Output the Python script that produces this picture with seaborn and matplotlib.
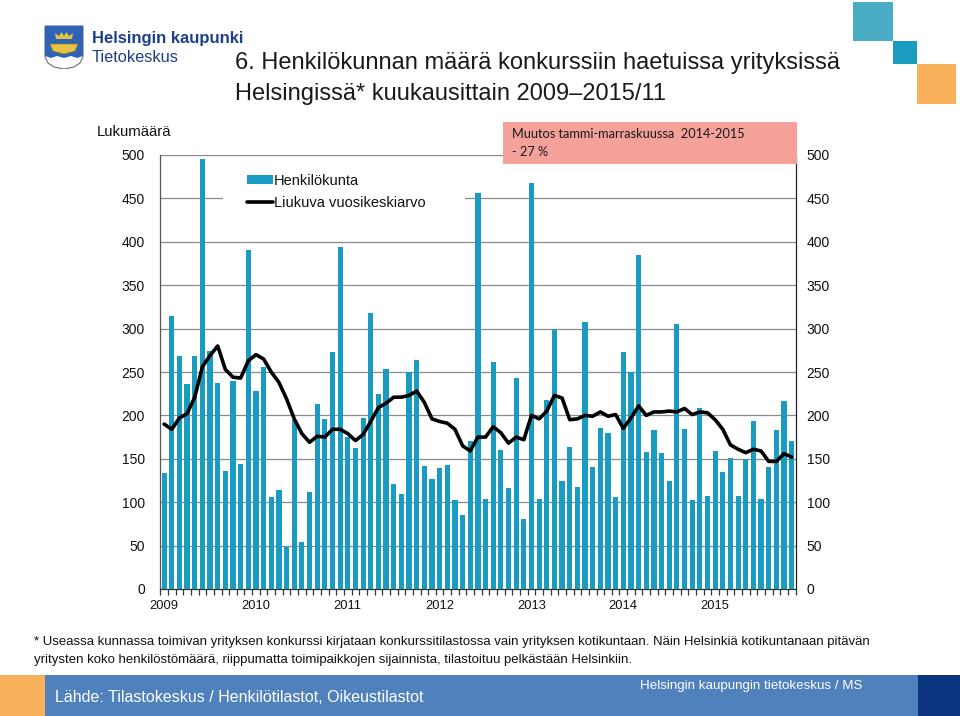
import matplotlib
matplotlib.use("Agg")
import matplotlib.pyplot as plt
import seaborn as sns
import numpy as np
import pandas as pd
from matplotlib.patches import Rectangle, Patch, Polygon
from matplotlib.lines import Line2D
from matplotlib import font_manager

# ---------------- data ----------------
years = ["2009", "2010", "2011", "2012", "2013", "2014", "2015"]
henkilokunta = [
    134, 315, 268, 236, 269, 495, 274, 237, 136, 240, 144, 391,   # 2009
    228, 256, 106, 114, 48, 195, 54, 112, 213, 196, 273, 394,     # 2010
    175, 163, 197, 318, 225, 253, 121, 109, 250, 264, 142, 127,   # 2011
    139, 143, 103, 85, 170, 456, 104, 262, 160, 116, 243, 81,     # 2012
    468, 104, 218, 299, 124, 164, 118, 308, 141, 185, 180, 106,   # 2013
    273, 250, 385, 158, 183, 157, 124, 305, 184, 103, 208, 107,   # 2014
    159, 135, 151, 107, 150, 194, 104, 140, 183, 217, 170,        # 2015 (1-11)
]
liukuva = [
    190, 184, 197, 202, 221, 256, 269, 280, 253, 244, 243, 263,
    270, 265, 250, 238, 219, 196, 179, 169, 176, 175, 184, 184,
    179, 171, 178, 193, 209, 214, 221, 221, 223, 228, 215, 196,
    193, 191, 184, 165, 159, 175, 175, 187, 180, 168, 175, 172,
    200, 196, 205, 223, 220, 195, 196, 200, 199, 204, 199, 201,
    185, 197, 211, 200, 204, 204, 205, 204, 208, 201, 204, 203,
    195, 184, 166, 161, 157, 161, 159, 147, 147, 156, 152,
]
y_ticks = [0, 50, 100, 150, 200, 250, 300, 350, 400, 450, 500]

n = len(henkilokunta)
df = pd.DataFrame({"i": np.arange(n), "Henkilökunta": henkilokunta,
                   "Liukuva": liukuva})

# ---------------- fonts ----------------
avail = {f.name for f in font_manager.fontManager.ttflist}
NARROW = "Liberation Sans Narrow" if "Liberation Sans Narrow" in avail else "Liberation Sans"
REG = "Liberation Sans"
CAL = "Lato"

sns.set_style("white")
plt.rcParams["font.family"] = [REG, "DejaVu Sans"]

W, H = 960, 716
fig = plt.figure(figsize=(9.6, 7.16), dpi=100)
fig.patch.set_facecolor("white")

def fx(px):
    return px / W

def fy(py):
    return 1 - py / H

BAR = "#1A9CC2"

# ---------------- main axes ----------------
ax_l, ax_r, ax_t, ax_b = 160.3, 795.5, 155, 589
ax = fig.add_axes([fx(ax_l), fy(ax_b), fx(ax_r - ax_l), (ax_b - ax_t) / H])

sns.barplot(data=df, x="i", y="Henkilökunta", color=BAR, saturation=1,
            width=0.68, ax=ax, zorder=3, edgecolor="none", linewidth=0)
sns.lineplot(data=df, x="i", y="Liukuva", color="black", linewidth=2.6,
             ax=ax, zorder=4)

ax.set_xlim(-0.5, n - 0.5)
ax.set_ylim(0, 500)
ax.set_xlabel("")
ax.set_ylabel("")

ax.set_yticks(y_ticks)
ax.set_yticklabels([str(v) for v in y_ticks])
ax.yaxis.grid(True, color="#8a8a8a", linewidth=0.9)
ax.set_axisbelow(True)
ax.tick_params(axis="y", length=0, pad=11, labelsize=10, colors="#111111")

# month boundary ticks (major) and year labels (minor)
ax.set_xticks(np.arange(-0.5, n, 1.0))
ax.set_xticklabels([])
ax.set_xticks([12 * k for k in range(len(years))], minor=True)
ax.set_xticklabels(years, minor=True)
ax.tick_params(axis="x", which="major", length=4, width=0.9, color="#333333",
               direction="out", bottom=True)
ax.tick_params(axis="x", which="minor", length=0, pad=8, labelsize=9.3,
               colors="#111111")

ax.spines["top"].set_visible(False)
ax.spines["left"].set_color("#555555")
ax.spines["left"].set_linewidth(0.9)
ax.spines["bottom"].set_color("#333333")
ax.spines["bottom"].set_linewidth(0.9)
ax.spines["right"].set_color("#222222")
ax.spines["right"].set_linewidth(0.9)

# white backing behind the legend (hides the gridline there)
ax.add_patch(Rectangle((fx(223), fy(214)), fx(242), 47 / H, transform=fig.transFigure,
                       facecolor="white", edgecolor="none", zorder=1))

# right axis labels
ax2 = ax.twinx()
ax2.set_ylim(0, 500)
ax2.set_yticks(y_ticks)
ax2.set_yticklabels([str(v) for v in y_ticks])
ax2.tick_params(axis="y", length=0, pad=8, labelsize=10, colors="#111111")
for s in ax2.spines.values():
    s.set_visible(False)

# legend
handles = [Patch(facecolor=BAR, edgecolor="none"),
           Line2D([0], [0], color="black", linewidth=2.6)]
leg = ax.legend(handles, ["Henkilökunta", "Liukuva vuosikeskiarvo"],
                loc="upper left", bbox_to_anchor=(fx(247), fy(174)),
                bbox_transform=fig.transFigure, frameon=False,
                fontsize=10.5, handlelength=1.75, handleheight=0.55,
                handletextpad=0.1, labelspacing=0.55, borderpad=0.0,
                borderaxespad=0.0)
leg.set_zorder(5)
for t in leg.get_texts():
    t.set_color("#111111")

# ---------------- header ----------------
fig.text(fx(235), fy(63), "6. Henkilökunnan määrä konkurssiin haetuissa yrityksissä",
         fontsize=17, family=[NARROW, "DejaVu Sans"], color="#1a1a1a", va="center")
fig.text(fx(235), fy(94), "Helsingissä* kuukausittain 2009–2015/11",
         fontsize=17, family=[NARROW, "DejaVu Sans"], color="#1a1a1a", va="center")

fig.text(fx(92), fy(38), "Helsingin kaupunki", fontsize=12, fontweight="bold",
         color="#1D3F8A", va="center", family=[REG, "DejaVu Sans"])
fig.text(fx(92), fy(57), "Tietokeskus", fontsize=11.8, color="#1D3F8A",
         va="center", family=[REG, "DejaVu Sans"])

# logo shield
lax = fig.add_axes([fx(44), fy(69), fx(40), 44 / H])
lax.set_xlim(0, 40)
lax.set_ylim(0, 44)
lax.axis("off")
shield = [(1, 43), (39, 43), (39, 12), (36, 6), (30, 2), (20, 0), (10, 2), (4, 6), (1, 12)]
lax.add_patch(Polygon(shield, closed=True, facecolor="white", edgecolor="#6c6c6c", lw=0.8))
lax.add_patch(Polygon([(1, 43), (39, 43), (39, 13), (33, 11), (27, 13), (20, 11),
                       (13, 13), (7, 11), (1, 13)],
                      closed=True, facecolor="#2E63B5", edgecolor="none"))
# crown
lax.add_patch(Polygon([(12, 30), (28, 30), (29, 36), (25, 33), (22.5, 37), (20, 33),
                       (17.5, 37), (15, 33), (11, 36)], closed=True,
                      facecolor="#E6C247", edgecolor="none"))
# boat
lax.add_patch(Polygon([(6, 25), (34, 25), (31, 18), (20, 15), (9, 18)], closed=True,
                      facecolor="#E6C247", edgecolor="#9a7a1a", lw=0.5))

# decorative squares
fig.patches.append(Rectangle((fx(853), fy(41)), fx(40), 39 / H, transform=fig.transFigure,
                             facecolor="#4BACC6", edgecolor="none"))
fig.patches.append(Rectangle((fx(893), fy(64)), fx(24), 23 / H, transform=fig.transFigure,
                             facecolor="#1A9BC0", edgecolor="none"))
fig.patches.append(Rectangle((fx(917), fy(104)), fx(39), 40 / H, transform=fig.transFigure,
                             facecolor="#F9B05A", edgecolor="none"))

# annotation box
fig.patches.append(Rectangle((fx(503), fy(164)), fx(294), 42 / H, transform=fig.transFigure,
                             facecolor="#F4A19A", edgecolor="none", zorder=6))
fig.text(fx(512), fy(134), "Muutos tammi-marraskuussa  2014-2015", fontsize=9.2,
         family=[CAL, "DejaVu Sans"], color="#1a1a1a", va="center", zorder=7)
fig.text(fx(512), fy(152), "- 27 %", fontsize=9.2, family=[CAL, "DejaVu Sans"],
         color="#1a1a1a", va="center", zorder=7)

# y axis title
fig.text(fx(97), fy(132), "Lukumäärä", fontsize=10.7, color="#111111", va="center")

# ---------------- footer ----------------
fig.text(fx(34), fy(642), "* Useassa kunnassa toimivan yrityksen konkurssi kirjataan konkurssitilastossa vain yrityksen kotikuntaan. Näin Helsinkiä kotikuntanaan pitävän",
         fontsize=9.5, family=[NARROW, "DejaVu Sans"], color="#111111", va="center")
fig.text(fx(34), fy(660), "yritysten koko henkilöstömäärä, riippumatta toimipaikkojen sijainnista, tilastoituu pelkästään Helsinkiin.",
         fontsize=9.5, family=[NARROW, "DejaVu Sans"], color="#111111", va="center")

fig.patches.append(Rectangle((0, 0), fx(45), 41 / H, transform=fig.transFigure,
                             facecolor="#F9B05A", edgecolor="none"))
fig.patches.append(Rectangle((fx(45), 0), fx(873), 41 / H, transform=fig.transFigure,
                             facecolor="#4F81BD", edgecolor="none"))
fig.patches.append(Rectangle((fx(918), 0), fx(42), 41 / H, transform=fig.transFigure,
                             facecolor="#0B3580", edgecolor="none"))
fig.text(fx(55), fy(698), "Lähde: Tilastokeskus / Henkilötilastot, Oikeustilastot",
         fontsize=11.5, family=[NARROW, "DejaVu Sans"], color="white", va="center", zorder=3)
fig.text(fx(640), fy(686), "Helsingin kaupungin tietokeskus / MS",
         fontsize=9.6, family=[NARROW, "DejaVu Sans"], color="white", va="center", zorder=3)

fig.savefig("out.png", dpi=100, facecolor="white")
